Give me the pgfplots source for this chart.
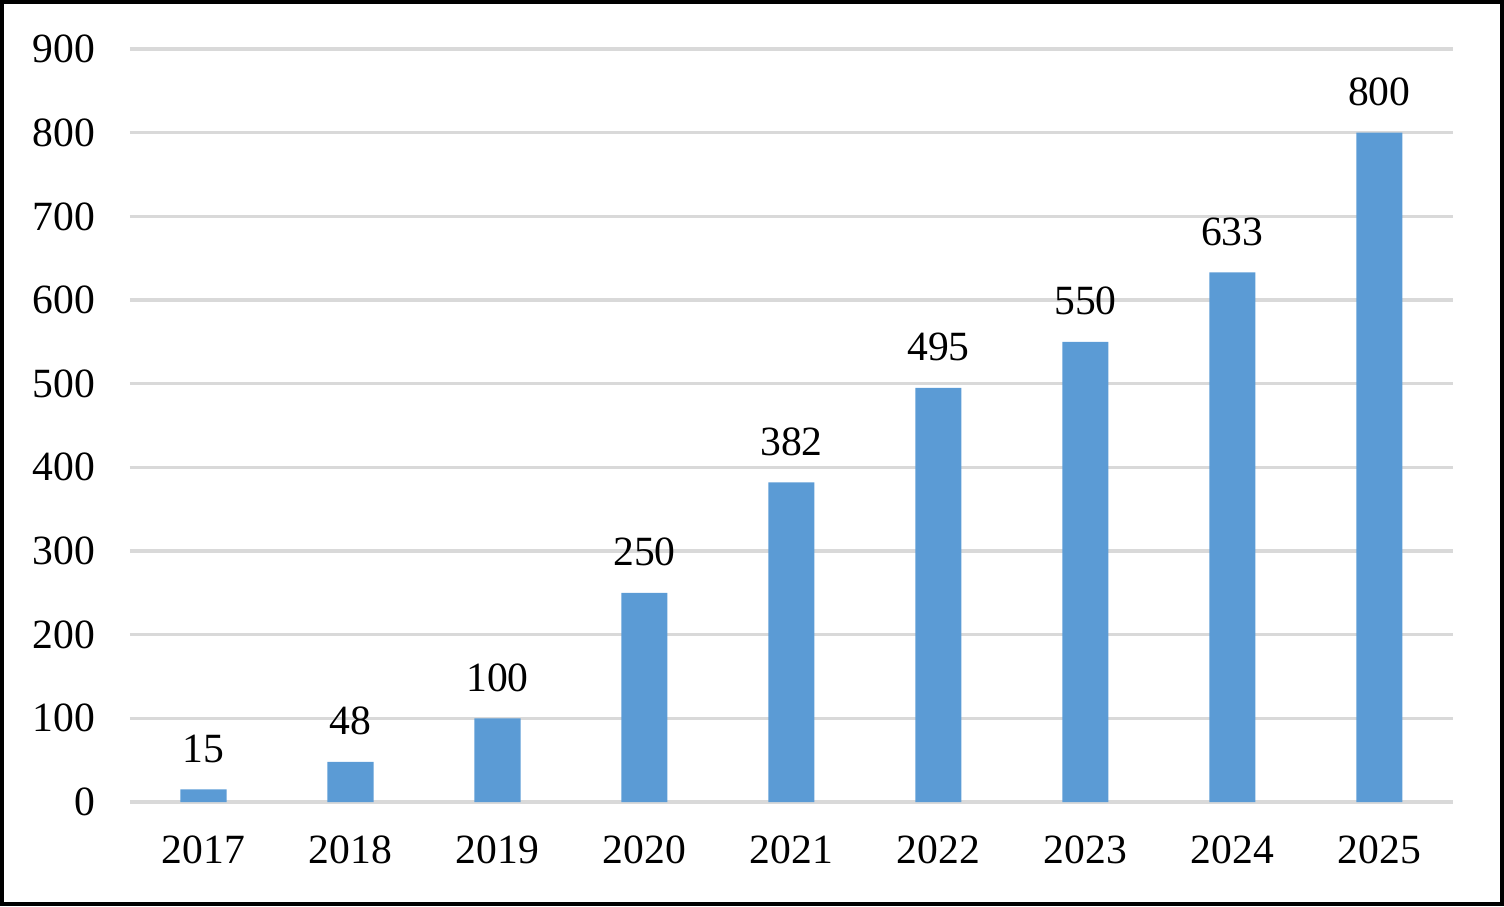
\documentclass[border=0pt]{standalone}
\usepackage{fontspec}
\setmainfont{Liberation Serif}
\usepackage{pgfplots}
\pgfplotsset{compat=1.18}
\definecolor{gridgray}{HTML}{D9D9D9}
\definecolor{barblue}{HTML}{5B9BD5}
\begin{document}
\begin{tikzpicture}
\begin{axis}[
  at={(0,0)}, anchor=south west,
  scale only axis,
  width=413.4pt, height=235.3pt,
  xmin=-0.5, xmax=8.5,
  ymin=0, ymax=900,
  ytick={0,100,...,900},
  xtick=data,
  xticklabels={2017,2018,2019,2020,2021,2022,2023,2024,2025},
  ymajorgrids,
  grid style={draw=gridgray, line width=1.1pt},
  axis line style={draw=none},
  major tick length=0pt,
  clip=false,
  /pgf/number format/assume math mode=true,
  /pgf/number format/1000 sep={},
  tick label style={font=\fontsize{13}{15}\selectfont},
  xticklabel style={yshift=-7pt},
  yticklabel style={xshift=-7.3pt},
  ybar,
  bar width=14.4pt,
  nodes near coords,
  every node near coord/.append style={font=\fontsize{13}{15}\selectfont, yshift=4.8pt, text=black},
]
\addplot[fill=barblue, draw=none] coordinates {
  (0,15) (1,48) (2,100) (3,250) (4,382) (5,495) (6,550) (7,633) (8,800)
};
\end{axis}
\draw[line width=1.25pt, black] (-40pt,-31.875pt) rectangle (428.75pt,250pt);
\end{tikzpicture}
\end{document}
